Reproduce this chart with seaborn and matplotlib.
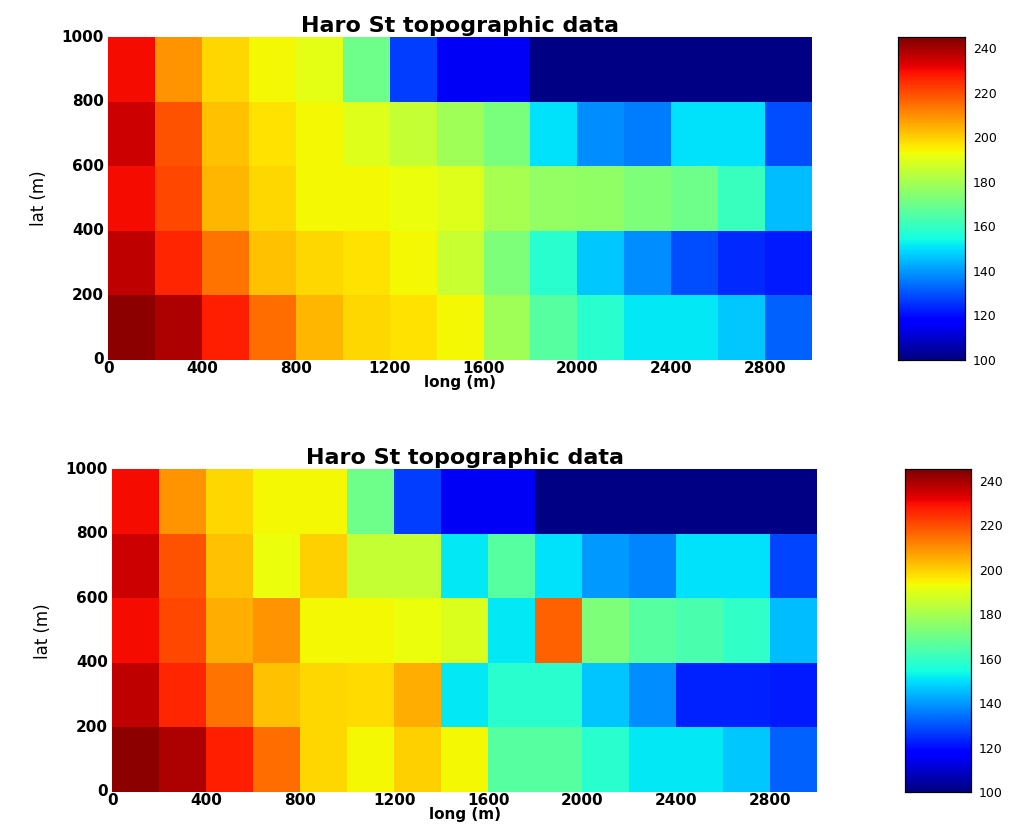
import numpy as np
import pandas as pd
import matplotlib
matplotlib.use("Agg")
import matplotlib.pyplot as plt
import seaborn as sns

# x: long (m) cell starts, y: lat (m) cell starts (rows listed from top: 800-1000 down to 0-200)
long_edges = [0, 200, 400, 600, 800, 1000, 1200, 1400, 1600, 1800, 2000, 2200, 2400, 2600, 2800]
lat_rows_top_down = [800, 600, 400, 200, 0]
x_tick_labels = ["0", "400", "800", "1200", "1600", "2000", "2400", "2800"]
y_tick_labels = ["1000", "800", "600", "400", "200", "0"]
cbar_ticks = [100, 120, 140, 160, 180, 200, 220, 240]
title_text = "Haro St topographic data"

# top panel elevations
top_r5 = [230, 209, 199, 194, 191, 170, 127, 115, 115, 101, 101, 101, 101, 101, 101]
top_r4 = [235, 219, 202, 197, 194, 190, 185, 179, 172, 150, 138, 136, 150, 150, 129]
top_r3 = [230, 221, 204, 199, 194, 194, 192, 190, 180, 177, 176, 173, 170, 161, 145]
top_r2 = [237, 226, 214, 202, 199, 197, 194, 186, 173, 158, 147, 138, 129, 124, 122]
top_r1 = [243, 239, 227, 215, 204, 199, 197, 194, 179, 166, 158, 151, 151, 147, 132]

# bottom panel elevations
bot_r5 = [230, 209, 199, 194, 194, 170, 127, 115, 115, 101, 101, 101, 101, 101, 101]
bot_r4 = [235, 219, 202, 192, 200, 185, 185, 151, 166, 150, 140, 137, 150, 150, 128]
bot_r3 = [230, 221, 205, 209, 194, 194, 192, 189, 151, 217, 173, 166, 164, 159, 145]
bot_r2 = [237, 226, 214, 202, 199, 198, 205, 151, 158, 158, 146, 138, 123, 123, 122]
bot_r1 = [243, 239, 227, 215, 199, 194, 200, 194, 166, 166, 158, 151, 151, 147, 132]

top_df = pd.DataFrame([top_r5, top_r4, top_r3, top_r2, top_r1],
                      index=lat_rows_top_down, columns=long_edges)
bot_df = pd.DataFrame([bot_r5, bot_r4, bot_r3, bot_r2, bot_r1],
                      index=lat_rows_top_down, columns=long_edges)

sns.set_style("white")
plt.rcParams['font.family'] = ['DejaVu Sans']
plt.rcParams['text.color'] = 'black'
plt.rcParams['xtick.color'] = 'black'
plt.rcParams['ytick.color'] = 'black'
plt.rcParams['axes.labelcolor'] = 'black'

fig = plt.figure(figsize=(10.1, 8.25), dpi=100)

panels = [
    (top_df, [0.107, 0.564, 0.697, 0.391], [0.889, 0.564, 0.066, 0.391]),
    (bot_df, [0.111, 0.040, 0.698, 0.391], [0.896, 0.040, 0.065, 0.391]),
]

for df, axpos, cbpos in panels:
    ax = fig.add_axes(axpos)
    cax = fig.add_axes(cbpos)
    sns.heatmap(df, ax=ax, cbar_ax=cax, cmap="jet", vmin=100, vmax=245,
                linewidths=0, cbar_kws={"ticks": cbar_ticks})
    ax.set_xticks(np.arange(0, 15, 2))
    ax.set_xticklabels(x_tick_labels, rotation=0, fontsize=11, fontweight='bold')
    ax.set_yticks(np.arange(0, 6))
    ax.set_yticklabels(y_tick_labels, rotation=0, fontsize=11, fontweight='bold')
    ax.tick_params(axis='x', length=0, pad=1)
    ax.tick_params(axis='y', length=0, pad=3)
    ax.set_xlabel("long (m)", fontsize=11, fontweight='bold', labelpad=-1)
    ax.set_ylabel("lat (m)", fontsize=12, family=['Liberation Sans Narrow', 'DejaVu Sans'], labelpad=10)
    ax.set_title(title_text, fontsize=16, fontweight='bold', pad=4)
    for s in ax.spines.values():
        s.set_visible(False)
    cax.tick_params(direction='in', length=4, width=0.8, left=True, right=True,
                    labelsize=9, pad=6)
    for s in cax.spines.values():
        s.set_visible(True)
        s.set_linewidth(0.8)
        s.set_color('black')
    cax.set_ylim(100, 245)

fig.savefig("out.png", dpi=100)
